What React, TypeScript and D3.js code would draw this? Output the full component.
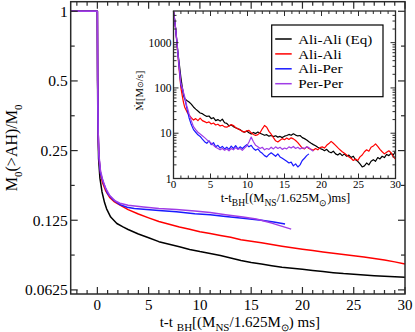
import React from "react";
import * as d3 from "d3";

// ---------- Data ----------
const seriesNames = ["Ali-Ali (Eq)", "Ali-Ali", "Ali-Per", "Per-Per"];
const seriesColors = ["#000000", "#ff0000", "#1a1aff", "#a03ce6"];

const mainYTicks = [1, 0.5, 0.25, 0.125, 0.0625];
const mainYTickLabels = ["1", "0.5", "0.25", "0.125", "0.0625"];
const mainXTicks = [0, 5, 10, 15, 20, 25, 30];
const insetXTicks = [0, 5, 10, 15, 20, 25, 30];
const insetYTicks = [1, 10, 100, 1000];

// main panel: M0(>AH)/M0 vs t
const mainBlack: [number, number][] = [
  [-2.6, 1], [0, 1], [0.02, 0.5], [0.05, 0.33], [0.12, 0.23], [0.25, 0.19], [0.45, 0.166],
  [0.7, 0.149], [0.9, 0.14], [1.3, 0.129], [1.9, 0.121], [2.5, 0.117], [3, 0.114], [4, 0.109],
  [5, 0.105], [6, 0.101], [7, 0.0985], [8, 0.096], [9, 0.0935], [10, 0.0915], [11, 0.0898],
  [12, 0.088], [13, 0.0858], [14, 0.0837], [15, 0.082], [16, 0.0808], [17, 0.0795],
  [18, 0.0783], [19, 0.0775], [20, 0.0767], [21, 0.0758], [22, 0.075], [23, 0.0742],
  [24, 0.0735], [25, 0.073], [26, 0.0725], [27, 0.072], [28, 0.0716], [29, 0.0712], [30, 0.0709],
];
const mainRed: [number, number][] = [
  [-2.6, 1], [0, 1], [0.03, 0.5], [0.08, 0.3], [0.15, 0.235], [0.3, 0.2], [0.5, 0.182],
  [0.8, 0.168], [1.2, 0.157], [1.6, 0.151], [2, 0.147], [3, 0.139], [4, 0.133], [5, 0.128],
  [6, 0.1235], [7, 0.12], [8, 0.1168], [9, 0.1143], [10, 0.1115], [11, 0.1095], [12, 0.1075],
  [13, 0.1055], [14, 0.103], [15, 0.1015], [16, 0.1], [17, 0.0982], [18, 0.0965], [19, 0.095],
  [20, 0.0937], [21, 0.0925], [22, 0.0912], [23, 0.09], [24, 0.0888], [25, 0.0878],
  [26, 0.0867], [27, 0.0855], [28, 0.0842], [29, 0.0826], [30, 0.0808],
];
const mainBlue: [number, number][] = [
  [-2.6, 1], [0, 1], [0.03, 0.5], [0.08, 0.3], [0.15, 0.235], [0.3, 0.2], [0.6, 0.181],
  [1, 0.163], [1.56, 0.153], [2.2, 0.146], [2.9, 0.1423], [3.6, 0.1405], [4.5, 0.1395],
  [6, 0.1378], [7.7, 0.136], [9.5, 0.1335], [11, 0.132], [12.5, 0.1297], [14.2, 0.1275],
  [16, 0.125], [17.2, 0.1228], [18.3, 0.1205],
];
const mainPurple: [number, number][] = [
  [-2.6, 1], [0, 1], [0.03, 0.5], [0.08, 0.3], [0.15, 0.24], [0.3, 0.205], [0.5, 0.188],
  [0.8, 0.172], [1.2, 0.16], [1.7, 0.152], [2.2, 0.148], [3, 0.145], [4.5, 0.1425],
  [6, 0.1405], [7.7, 0.139], [9.5, 0.137], [11, 0.135], [12.5, 0.132], [14.2, 0.129],
  [15.5, 0.1265], [17, 0.1215], [18.9, 0.1144],
];

// inset: Mdot [Msun/s] vs t
const insetBlack: [number, number][] = [
  [0, 5000], [0.1, 3800], [0.2, 2800], [0.3, 2000], [0.45, 1100], [0.6, 600], [0.8, 320],
  [1.0, 170], [1.2, 100], [1.35, 70],
  [1.5, 58], [1.8, 53], [2.1, 49], [2.4, 44], [2.7, 38], [3.0, 34], [3.3, 31], [3.6, 28],
  [3.9, 27], [4.2, 25], [4.5, 23.5], [4.8, 24], [5.1, 21], [5.4, 22], [5.7, 19], [6.0, 20],
  [6.3, 18.5], [6.6, 20.5], [6.9, 17], [7.2, 16.5], [7.5, 14.5], [7.8, 15.2], [8.1, 14],
  [8.4, 13.2], [8.7, 12.5], [9.0, 12], [9.3, 11], [9.6, 10.5], [9.9, 11.2], [10.2, 10.2],
  [10.5, 9.6], [10.8, 10.4], [11.1, 9.8], [11.4, 10.6], [11.7, 10], [12.0, 9.5], [12.3, 9.0],
  [12.6, 9.3], [12.9, 8.6], [13.2, 8.9], [13.5, 8.4], [13.8, 8.8], [14.1, 8.2], [14.4, 8.5],
  [14.7, 8.0], [15.0, 8.6], [15.3, 8.9], [15.6, 9.4], [15.9, 9.0], [16.2, 9.7], [16.5, 9.1],
  [16.8, 8.7], [17.1, 8.9], [17.4, 8.0], [17.7, 7.6], [18.0, 7.1], [18.3, 6.5], [18.6, 6.0],
  [18.9, 5.6], [19.2, 5.3], [19.5, 4.9], [19.8, 4.6], [20.1, 4.4], [20.4, 4.1], [20.7, 4.4],
  [21.0, 3.9], [21.3, 3.7], [21.6, 4.0], [21.9, 3.5], [22.2, 3.3], [22.5, 3.6], [22.8, 3.2],
  [23.1, 3.5], [23.4, 3.1], [23.7, 3.3], [24.0, 2.9], [24.3, 3.1], [24.6, 2.6], [24.9, 2.4],
  [25.2, 2.1], [25.5, 1.8], [25.8, 1.9], [26.1, 2.2], [26.4, 2.0], [26.7, 2.4], [27.0, 2.6],
  [27.3, 2.4], [27.6, 2.9], [27.9, 2.7], [28.2, 3.1], [28.5, 2.9], [28.8, 3.4], [29.1, 3.2],
  [29.4, 3.6], [29.7, 3.3], [30.0, 4.0],
];
const insetRed: [number, number][] = [
  [0, 5000], [0.1, 3700], [0.2, 2700], [0.3, 1900], [0.45, 1000], [0.6, 520], [0.8, 220],
  [1.0, 100], [1.2, 65], [1.35, 48],
  [1.5, 38], [1.8, 30], [2.1, 25], [2.4, 22], [2.7, 19.5], [3.0, 21], [3.3, 19], [3.6, 21.5],
  [3.9, 19], [4.2, 18], [4.5, 17], [4.8, 17.8], [5.1, 16], [5.4, 16.8], [5.7, 15.2], [6.0, 15.8],
  [6.3, 14.5], [6.6, 15], [6.9, 13.8], [7.2, 13.6], [7.5, 14.5], [7.8, 15.5], [8.1, 14.8],
  [8.4, 13.2], [8.7, 12.6], [9.0, 11.8], [9.3, 11], [9.6, 10.6], [9.9, 11.3], [10.2, 11.6],
  [10.5, 10.2], [10.8, 9.4], [11.1, 8.9], [11.4, 9.3], [11.7, 10.2], [12.0, 12.5], [12.3, 14.8],
  [12.6, 13.5], [12.9, 11], [13.2, 9.5], [13.5, 8], [13.8, 6.8], [14.1, 6.4], [14.4, 7.0],
  [14.7, 7.6], [15.0, 7.2], [15.3, 7.8], [15.6, 7.3], [15.9, 7.9], [16.2, 7.5], [16.5, 6.9],
  [16.8, 6.2], [17.1, 5.4], [17.4, 4.7], [17.7, 4.5], [18.0, 5.0], [18.3, 4.6], [18.6, 4.4],
  [18.9, 4.2], [19.2, 4.6], [19.5, 4.3], [19.8, 4.8], [20.1, 5.0], [20.4, 4.7], [20.7, 5.4],
  [21.0, 5.9], [21.3, 6.6], [21.6, 6.0], [21.9, 5.4], [22.2, 4.8], [22.5, 4.3], [22.8, 3.9],
  [23.1, 3.6], [23.4, 3.3], [23.7, 3.0], [24.0, 2.8], [24.3, 2.5], [24.6, 2.7], [24.9, 2.5],
  [25.2, 3.0], [25.5, 3.3], [25.8, 3.9], [26.1, 4.3], [26.4, 4.0], [26.7, 4.9], [27.0, 5.2],
  [27.3, 5.8], [27.6, 5.1], [27.9, 4.4], [28.2, 3.9], [28.5, 3.5], [28.8, 3.8], [29.1, 4.1],
  [29.4, 3.7], [29.7, 3.0], [30.0, 2.7],
];
const insetBlue: [number, number][] = [
  [0, 5000], [0.1, 3700], [0.2, 2700], [0.3, 1900], [0.45, 1050], [0.6, 560], [0.8, 250],
  [1.0, 115], [1.2, 95], [1.35, 75],
  [1.5, 60], [1.8, 36], [2.1, 22], [2.4, 15.5], [2.7, 12], [3.0, 10.5], [3.3, 9.2], [3.6, 8.5],
  [3.9, 7.4], [4.2, 6.5], [4.5, 6.0], [4.8, 6.8], [5.1, 5.6], [5.4, 6.2], [5.7, 5.0], [6.0, 5.4],
  [6.3, 4.7], [6.6, 5.1], [6.9, 4.5], [7.2, 4.9], [7.5, 4.4], [7.8, 5.2], [8.1, 4.6], [8.4, 5.3],
  [8.7, 4.5], [9.0, 5.0], [9.3, 4.6], [9.6, 5.1], [9.9, 5.6], [10.2, 5.0], [10.5, 5.4],
  [10.8, 4.6], [11.1, 4.2], [11.4, 4.5], [11.7, 3.9], [12.0, 3.6], [12.3, 3.2], [12.6, 3.0],
  [12.9, 3.4], [13.2, 3.7], [13.5, 3.4], [13.8, 3.1], [14.1, 3.5], [14.4, 3.0], [14.7, 2.8],
  [15.0, 2.6], [15.3, 2.4], [15.6, 2.2], [15.9, 2.3], [16.2, 1.9], [16.5, 2.1], [16.8, 1.8],
  [17.1, 2.0], [17.4, 2.5], [17.7, 2.8], [18.0, 3.2], [18.3, 3.5],
];
const insetPurple: [number, number][] = [
  [0, 5000], [0.1, 3800], [0.2, 2800], [0.3, 2000], [0.45, 1100], [0.6, 580], [0.8, 260],
  [1.0, 125], [1.2, 100], [1.35, 80],
  [1.5, 65], [1.8, 40], [2.1, 27], [2.4, 19], [2.7, 14], [3.0, 12], [3.3, 10.5], [3.6, 9.6],
  [3.9, 8.8], [4.2, 8.0], [4.5, 7.2], [4.8, 6.6], [5.1, 6.0], [5.4, 5.4], [5.7, 4.9], [6.0, 4.6],
  [6.3, 4.3], [6.6, 4.6], [6.9, 4.2], [7.2, 4.5], [7.5, 4.1], [7.8, 4.6], [8.1, 4.3], [8.4, 4.8],
  [8.7, 4.4], [9.0, 4.6], [9.3, 4.2], [9.6, 4.7], [9.9, 5.2], [10.2, 6.4], [10.5, 8.2],
  [10.8, 6.5], [11.1, 5.4], [11.4, 5.0], [11.7, 4.6], [12.0, 4.9], [12.3, 4.3], [12.6, 4.6],
  [12.9, 4.4], [13.2, 4.9], [13.5, 4.5], [13.8, 5.0], [14.1, 4.6], [14.4, 4.9], [14.7, 4.4],
  [15.0, 4.7], [15.3, 4.5], [15.6, 5.0], [15.9, 4.7], [16.2, 5.1], [16.5, 4.6], [16.8, 4.9],
  [17.1, 4.5], [17.4, 4.8], [17.7, 4.6], [18.0, 5.0], [18.3, 4.8], [18.6, 4.3], [18.9, 4.0],
];

const mainSeries = [mainBlack, mainRed, mainBlue, mainPurple];
const insetSeries = [insetBlack, insetRed, insetBlue, insetPurple];

// ---------- Layout ----------
const W = 415;
const H = 332;
const FONT = "'Liberation Serif', 'Times New Roman', Times, serif";
const AX = "#2a2a2a";

const M = { left: 70.7, right: 405, top: 1.7, bottom: 294 };
const I = { left: 173.5, right: 395.5, top: 11, bottom: 178.5 };

export default function App() {
  const x = d3.scaleLinear().domain([-2.6, 30]).range([M.left, M.right]);
  const y = d3.scaleLog().base(2).domain([0.06, 1.1]).range([M.bottom, M.top]);
  const xi = d3.scaleLinear().domain([0, 30]).range([I.left, I.right]);
  const yi = d3.scaleLog().base(10).domain([1, 5000]).range([I.bottom, I.top]);

  const lineMain = d3
    .line<[number, number]>()
    .x((d) => x(d[0]))
    .y((d) => y(d[1]));
  const lineInset = d3
    .line<[number, number]>()
    .x((d) => xi(d[0]))
    .y((d) => yi(d[1]));

  const mainMinorX = d3.range(-2, 31, 1).filter((v) => v % 5 !== 0);
  const mainMinorY = mainYTicks.slice(1).map((v) => v * Math.SQRT2);
  const insetMinorX = d3.range(1, 30, 1).filter((v) => v % 5 !== 0);
  const insetMinorY: number[] = [];
  [1, 10, 100, 1000].forEach((dec) => {
    for (let k = 2; k <= 9; k++) if (dec * k < 5000) insetMinorY.push(dec * k);
  });

  const legendX = 271.7;
  const legendY = 25;
  const legendW = 111.3;
  const legendH = 71.7;

  return (
    <svg
      width={W}
      height={H}
      style={{ position: "absolute", left: 0, top: 0, background: "#fff" }}
      fontFamily={FONT}
    >
      <rect x={0} y={0} width={W} height={H} fill="#fff" />

      {/* ---------- main panel lines ---------- */}
      <g fill="none" strokeWidth={1.5} strokeLinejoin="round">
        {mainSeries.map((s, i) => (
          <path key={i} d={lineMain(s) || ""} stroke={seriesColors[i]} />
        ))}
      </g>

      {/* main ticks */}
      <g stroke={AX} strokeWidth={1.2}>
        {mainXTicks.map((t) => (
          <g key={"mx" + t}>
            <line x1={x(t)} x2={x(t)} y1={M.bottom} y2={M.bottom - 7} />
            <line x1={x(t)} x2={x(t)} y1={M.top} y2={M.top + 7} />
          </g>
        ))}
        {mainMinorX.map((t) => (
          <g key={"mmx" + t}>
            <line x1={x(t)} x2={x(t)} y1={M.bottom} y2={M.bottom - 4} />
            <line x1={x(t)} x2={x(t)} y1={M.top} y2={M.top + 4} />
          </g>
        ))}
        {mainYTicks.map((t) => (
          <g key={"my" + t}>
            <line x1={M.left} x2={M.left + 7} y1={y(t)} y2={y(t)} />
            <line x1={M.right} x2={M.right - 7} y1={y(t)} y2={y(t)} />
          </g>
        ))}
        {mainMinorY.map((t) => (
          <g key={"mmy" + t}>
            <line x1={M.left} x2={M.left + 4} y1={y(t)} y2={y(t)} />
            <line x1={M.right} x2={M.right - 4} y1={y(t)} y2={y(t)} />
          </g>
        ))}
      </g>
      <rect
        x={M.left}
        y={M.top}
        width={M.right - M.left}
        height={M.bottom - M.top}
        fill="none"
        stroke={AX}
        strokeWidth={1.5}
      />

      {/* main tick labels */}
      <g fill="#000">
        {mainXTicks.map((t) => (
          <text key={"mxl" + t} x={x(t)} y={309.5} textAnchor="middle" fontSize={15}>
            {t}
          </text>
        ))}
        {mainYTicks.map((t, i) => (
          <text key={"myl" + t} x={M.left - 3} y={y(t)} dy="0.35em" textAnchor="end" fontSize={15.5}>
            {mainYTickLabels[i]}
          </text>
        ))}
      </g>

      {/* main axis labels */}
      <text x={(M.left + M.right) / 2 + 2} y={326.5} textAnchor="middle" fontSize={15}>
        t-t <tspan fontSize={11} dy={4.5}>BH</tspan>
        <tspan dy={-4.5}>[(M</tspan>
        <tspan fontSize={11} dy={4.5}>NS</tspan>
        <tspan dy={-4.5}>/1.625M</tspan>
        <tspan fontSize={10} dy={4.5}>⊙</tspan>
        <tspan dy={-4.5}>) ms]</tspan>
      </text>
      <text
        transform={`translate(16.5, ${(M.top + M.bottom) / 2}) rotate(-90)`}
        textAnchor="middle"
        fontSize={16}
      >
        M<tspan fontSize={11} dy={5}>0</tspan>
        <tspan dy={-5}>(&gt;AH)/M</tspan>
        <tspan fontSize={11} dy={5}>0</tspan>
      </text>

      {/* ---------- inset ---------- */}
      <rect
        x={I.left}
        y={I.top}
        width={I.right - I.left}
        height={I.bottom - I.top}
        fill="#fff"
      />
      <g fill="none" strokeWidth={1.2} strokeLinejoin="round">
        {insetSeries.map((s, i) => (
          <path key={i} d={lineInset(s) || ""} stroke={seriesColors[i]} />
        ))}
      </g>
      <g stroke={AX} strokeWidth={1}>
        {insetXTicks.map((t) => (
          <g key={"ix" + t}>
            <line x1={xi(t)} x2={xi(t)} y1={I.bottom} y2={I.bottom - 5} />
            <line x1={xi(t)} x2={xi(t)} y1={I.top} y2={I.top + 5} />
          </g>
        ))}
        {insetMinorX.map((t) => (
          <g key={"imx" + t}>
            <line x1={xi(t)} x2={xi(t)} y1={I.bottom} y2={I.bottom - 3} />
            <line x1={xi(t)} x2={xi(t)} y1={I.top} y2={I.top + 3} />
          </g>
        ))}
        {insetYTicks.map((t) => (
          <g key={"iy" + t}>
            <line x1={I.left} x2={I.left + 5} y1={yi(t)} y2={yi(t)} />
            <line x1={I.right} x2={I.right - 5} y1={yi(t)} y2={yi(t)} />
          </g>
        ))}
        {insetMinorY.map((t) => (
          <g key={"imy" + t}>
            <line x1={I.left} x2={I.left + 3} y1={yi(t)} y2={yi(t)} />
            <line x1={I.right} x2={I.right - 3} y1={yi(t)} y2={yi(t)} />
          </g>
        ))}
      </g>
      <rect
        x={I.left}
        y={I.top}
        width={I.right - I.left}
        height={I.bottom - I.top}
        fill="none"
        stroke={AX}
        strokeWidth={1.3}
      />
      <g fill="#000">
        {insetXTicks.map((t) => (
          <text key={"ixl" + t} x={xi(t)} y={188} textAnchor="middle" fontSize={11}>
            {t}
          </text>
        ))}
        {insetYTicks.map((t) => (
          <text key={"iyl" + t} x={I.left - 2} y={yi(t)} dy="0.35em" textAnchor="end" fontSize={11.5}>
            {t}
          </text>
        ))}
      </g>
      <text x={(I.left + I.right) / 2 + 1} y={202} textAnchor="middle" fontSize={12.5}>
        t-t<tspan fontSize={9.5} dy={4}>BH</tspan>
        <tspan dy={-4}>[(M</tspan>
        <tspan fontSize={9.5} dy={4}>NS</tspan>
        <tspan dy={-4}>/1.625M</tspan>
        <tspan fontSize={8.5} dy={4}>⊙</tspan>
        <tspan dy={-4}>)ms]</tspan>
      </text>
      <text
        transform={`translate(143, ${(I.top + I.bottom) / 2 - 4}) rotate(-90)`}
        textAnchor="middle"
        fontSize={10.5}
      >
        <tspan fontFamily="'DejaVu Serif', serif" fontSize={9.5}>Ṁ</tspan>[M<tspan fontSize={8}>⊙</tspan>/s]
      </text>

      {/* legend */}
      <rect
        x={legendX}
        y={legendY}
        width={legendW}
        height={legendH}
        fill="#fff"
        stroke="#000"
        strokeWidth={1.2}
      />
      {seriesNames.map((name, i) => {
        const ry = legendY + 14 + i * 14.9;
        return (
          <g key={name}>
            <line x1={legendX + 3.5} x2={legendX + 20} y1={ry} y2={ry} stroke={seriesColors[i]} strokeWidth={1.5} />
            <g transform={`translate(${legendX + 26.5}, ${ry}) scale(1.17, 1)`}>
              <text x={0} y={0} dy="0.36em" fontSize={12.9}>
                {name}
              </text>
            </g>
          </g>
        );
      })}
    </svg>
  );
}
